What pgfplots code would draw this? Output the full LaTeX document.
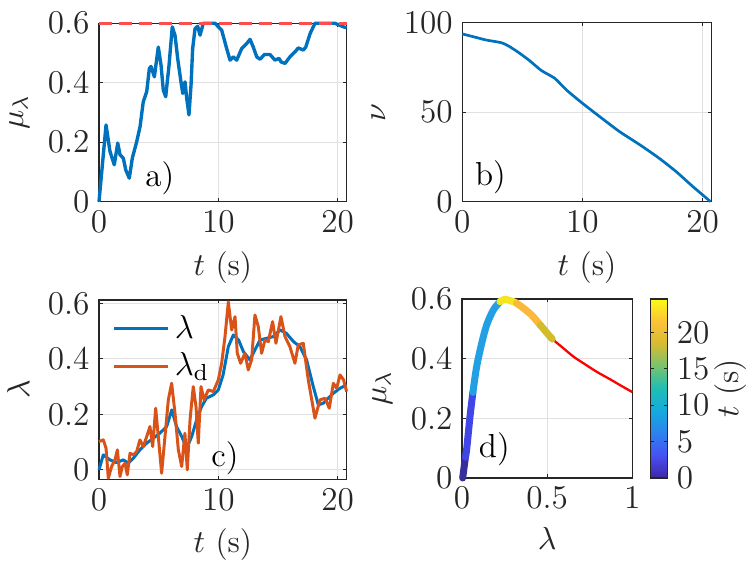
\RequirePackage{fix-cm}
\documentclass[border=0pt]{standalone}
\usepackage{pgfplots}
\pgfplotsset{compat=1.18}
\definecolor{mblue}{RGB}{0,114,189}
\definecolor{morange}{RGB}{217,83,25}
\definecolor{mred}{RGB}{255,77,77}
\definecolor{axgray}{RGB}{38,38,38}
\definecolor{gridgray}{RGB}{225,225,225}
\definecolor{cpurple}{RGB}{58,46,156}
\definecolor{cblue}{RGB}{65,70,230}
\definecolor{clblue}{RGB}{34,160,227}
\definecolor{cyellow}{RGB}{244,229,30}
\definecolor{corange}{RGB}{251,185,60}
\definecolor{colive}{RGB}{210,188,43}
\newcommand{\tfont}{\fontsize{12.3}{14}\selectfont}
\newcommand{\lfont}{\fontsize{11.8}{14}\selectfont}
\pgfplotsset{
  myax/.style={
    scale only axis,
    anchor=south west,
    clip=false,
    axis line style={axgray, line width=0.4pt},
    tick style={axgray, line width=0.4pt},
    major tick length=1.3pt,
    xtick align=inside, ytick align=inside,
    grid=major,
    major grid style={gridgray, line width=0.4pt},
    tick label style={text=axgray, font=\tfont},
    label style={text=axgray, font=\lfont},
  },
  colormap={parula}{rgb255=(62,38,168) rgb255=(71,80,242) rgb255=(45,130,240) rgb255=(20,170,222) rgb255=(30,190,180) rgb255=(120,195,110) rgb255=(215,186,50) rgb255=(252,195,55) rgb255=(249,251,21)},
}
\begin{document}
\begin{tikzpicture}
\useasboundingbox (0,0) rectangle (276.39pt,207.57pt);
% ---------- a)
\begin{axis}[myax, at={(36.63pt,132.94pt)}, width=91.65pt, height=66.01pt,
  xmin=0, xmax=20.76, ymin=0, ymax=0.6,
  xtick={0,10,20}, ytick={0,0.2,0.4,0.6},
  xlabel={$t$ (s)}, ylabel={$\mu_\lambda$}]
\addplot[mblue, line width=1.25pt, line join=round] coordinates {
(0,0) (0.59,0.258) (0.92,0.169) (1.28,0.124) (1.57,0.197) (1.76,0.158) (2.04,0.146) (2.24,0.107) (2.54,0.079) (2.79,0.146) (3.16,0.202) (3.44,0.252) (3.71,0.336) (4.0,0.37) (4.22,0.448) (4.36,0.455) (4.64,0.42) (4.97,0.52) (5.2,0.459) (5.39,0.375) (5.59,0.353) (5.87,0.459) (6.14,0.588) (6.37,0.56) (6.6,0.48) (6.87,0.403) (7.02,0.364) (7.21,0.403) (7.35,0.348) (7.54,0.292) (7.71,0.39) (7.85,0.515) (8.05,0.582) (8.27,0.59) (8.47,0.56) (8.74,0.6) (9.72,0.6) (10.28,0.577) (10.7,0.515) (10.98,0.476) (11.26,0.487) (11.54,0.476) (11.96,0.515) (12.38,0.532) (12.66,0.546) (12.93,0.52) (13.22,0.487) (13.5,0.479) (13.86,0.495) (14.33,0.495) (14.75,0.476) (15.09,0.482) (15.26,0.47) (15.59,0.465) (16.0,0.487) (16.43,0.504) (16.7,0.517) (17.13,0.51) (17.33,0.52) (17.69,0.565) (18.1,0.6) (19.78,0.6) (20.48,0.588) (20.76,0.585)};
\addplot[mred, line width=1.3pt, dash pattern=on 4.8pt off 2.6pt] coordinates {(0,0.6) (20.76,0.6)};
\node[text=black, font=\tfont] at (axis cs:5.1,0.08) {a)};
\end{axis}
% ---------- b)
\begin{axis}[myax, at={(171.05pt,132.94pt)}, width=92.28pt, height=66.23pt,
  xmin=0, xmax=20.76, ymin=0, ymax=100,
  xtick={0,10,20}, ytick={0,50,100},
  xlabel={$t$ (s)}, ylabel={$\nu$}]
\addplot[mblue, line width=1pt, line join=round, smooth, tension=0.4] coordinates {
(0,93.7) (0.89,92.2) (2,90.3) (3.25,88.8) (3.94,86.6) (4.78,82.9) (5.6,78.8) (6.6,73.2) (7.7,68.9) (8.67,62.4) (10,55) (11.44,47.5) (13.1,39.1) (14.8,31.7) (16.4,24.2) (17.8,16.8) (19.2,8.4) (20.67,0)};
\node[text=black, font=\tfont] at (axis cs:2.35,13.8) {b)};
\end{axis}
% ---------- c)
\begin{axis}[myax, at={(36.63pt,30.23pt)}, width=91.65pt, height=66.34pt,
  xmin=0, xmax=20.76, ymin=-0.034, ymax=0.612,
  xtick={0,10,20}, ytick={0,0.2,0.4,0.6},
  xlabel={$t$ (s)}, ylabel={$\lambda$},
  legend style={at={(0.02,0.98)}, anchor=north west, draw=none, fill=none, text=black, font=\tfont, row sep=0pt},
  legend cell align=left,
  legend image code/.code={\draw[#1] (0cm,0cm) -- (0.7cm,0cm);}]
\addplot[mblue, line width=1.1pt, line join=round] coordinates {
(0,0) (0.36,0.054) (0.92,0.036) (1.48,0.026) (2.04,0.036) (2.46,0.024) (2.88,0.042) (3.43,0.072) (3.99,0.096) (4.55,0.114) (5.1,0.132) (5.67,0.156) (6.1,0.216) (6.5,0.156) (6.93,0.12) (7.35,0.078) (7.77,0.12) (8.18,0.18) (8.6,0.228) (9.0,0.258) (9.58,0.27) (10.0,0.288) (10.4,0.342) (10.84,0.444) (11.26,0.486) (11.7,0.468) (12.1,0.426) (12.65,0.396) (13.07,0.432) (13.5,0.468) (14.05,0.474) (14.6,0.48) (15.17,0.504) (15.7,0.492) (16.3,0.462) (16.84,0.444) (17.4,0.396) (17.96,0.3) (18.38,0.234) (18.8,0.24) (19.2,0.258) (19.64,0.276) (20.2,0.294) (20.75,0.306)};
\addlegendentry{$\lambda$}
\addplot[morange, line width=1.1pt, line join=round] coordinates {
(0,0.102) (0.36,0.108) (0.59,0.078) (0.78,-0.03) (1.06,0.012) (1.34,0.036) (1.54,0.072) (1.76,-0.024) (1.96,0.012) (2.18,0.024) (2.37,-0.018) (2.6,0.06) (2.88,0.054) (3.16,0.066) (3.43,0.108) (3.71,0.084) (4.0,0.12) (4.27,0.156) (4.5,0.084) (4.75,0.222) (4.97,0.12) (5.25,-0.012) (5.53,0.12) (5.81,0.252) (6.09,0.312) (6.37,0.204) (6.65,0.072) (6.93,0.012) (7.2,0.132) (7.4,0.0) (7.63,0.18) (7.9,0.3) (8.13,0.228) (8.32,0.096) (8.55,0.3) (8.8,0.252) (9.16,0.288) (9.58,0.282) (10.0,0.324) (10.28,0.384) (10.56,0.48) (10.84,0.605) (11.12,0.504) (11.4,0.552) (11.59,0.42) (11.87,0.384) (12.23,0.42) (12.51,0.36) (12.79,0.396) (13.07,0.558) (13.35,0.516) (13.63,0.42) (13.91,0.468) (14.19,0.462) (14.55,0.534) (14.83,0.456) (15.25,0.552) (15.59,0.48) (16.0,0.444) (16.42,0.384) (16.7,0.45) (17.12,0.456) (17.54,0.324) (18.1,0.186) (18.52,0.252) (18.94,0.258) (19.3,0.222) (19.64,0.312) (19.92,0.294) (20.2,0.342) (20.5,0.324) (20.75,0.282)};
\addlegendentry{$\lambda_\mathrm{d}$}
\node[text=black, font=\tfont] at (axis cs:10.56,0.041) {c)};
\end{axis}
% ---------- d)
\begin{axis}[myax, at={(170.94pt,30.71pt)}, width=63.01pt, height=66.23pt,
  xmin=0, xmax=1, ymin=0, ymax=0.6,
  xtick={0,0.5,1}, ytick={0,0.2,0.4,0.6},
  xlabel={$\lambda$}, ylabel={$\mu_\lambda$},
  colormap name=parula, point meta min=0, point meta max=24.6,
  colorbar,
  colorbar style={at={(1.108,0)}, anchor=south west, width=6.14pt,
    ytick={0,5,10,15,20}, ylabel={$t$ (s)},
    ylabel style={anchor=center, at={(axis description cs:4.8,0.5)}, font=\lfont, text=axgray},
    axis line style={axgray, line width=0.4pt},
    tick style={axgray, line width=0.4pt}, major tick length=1.3pt,
    tick label style={text=axgray, font=\tfont}}]
\addplot[red, line width=0.85pt, line join=round, smooth, tension=0.5] coordinates {
(0.517,0.474) (0.536,0.463) (0.595,0.435) (0.654,0.407) (0.712,0.385) (0.791,0.356) (0.869,0.331) (0.935,0.309) (1.0,0.288)};
\addplot[cpurple, line width=2.6pt, line cap=round] coordinates {(0.004,0) (0.02,0.07)};
\addplot[cblue, line width=2.6pt, line cap=round, smooth] coordinates {(0.02,0.07) (0.027,0.094) (0.047,0.206) (0.064,0.287)};
\addplot[clblue, line width=2.6pt, line cap=round, line join=round, smooth] coordinates {(0.064,0.287) (0.086,0.373) (0.116,0.452) (0.145,0.513) (0.184,0.563) (0.223,0.591)};
\addplot[cyellow, line width=2.6pt, line cap=round, line join=round, smooth] coordinates {(0.223,0.591) (0.252,0.599) (0.301,0.591) (0.32,0.586)};
\addplot[corange, line width=2.6pt, line cap=round, line join=round, smooth] coordinates {(0.32,0.586) (0.35,0.574) (0.409,0.546) (0.46,0.512)};
\addplot[colive, line width=2.6pt, line cap=round, line join=round, smooth] coordinates {(0.46,0.512) (0.468,0.507) (0.517,0.474) (0.53,0.466)};
\node[text=black, font=\tfont] at (axis cs:0.19,0.095) {d)};
\end{axis}
\end{tikzpicture}
\end{document}
